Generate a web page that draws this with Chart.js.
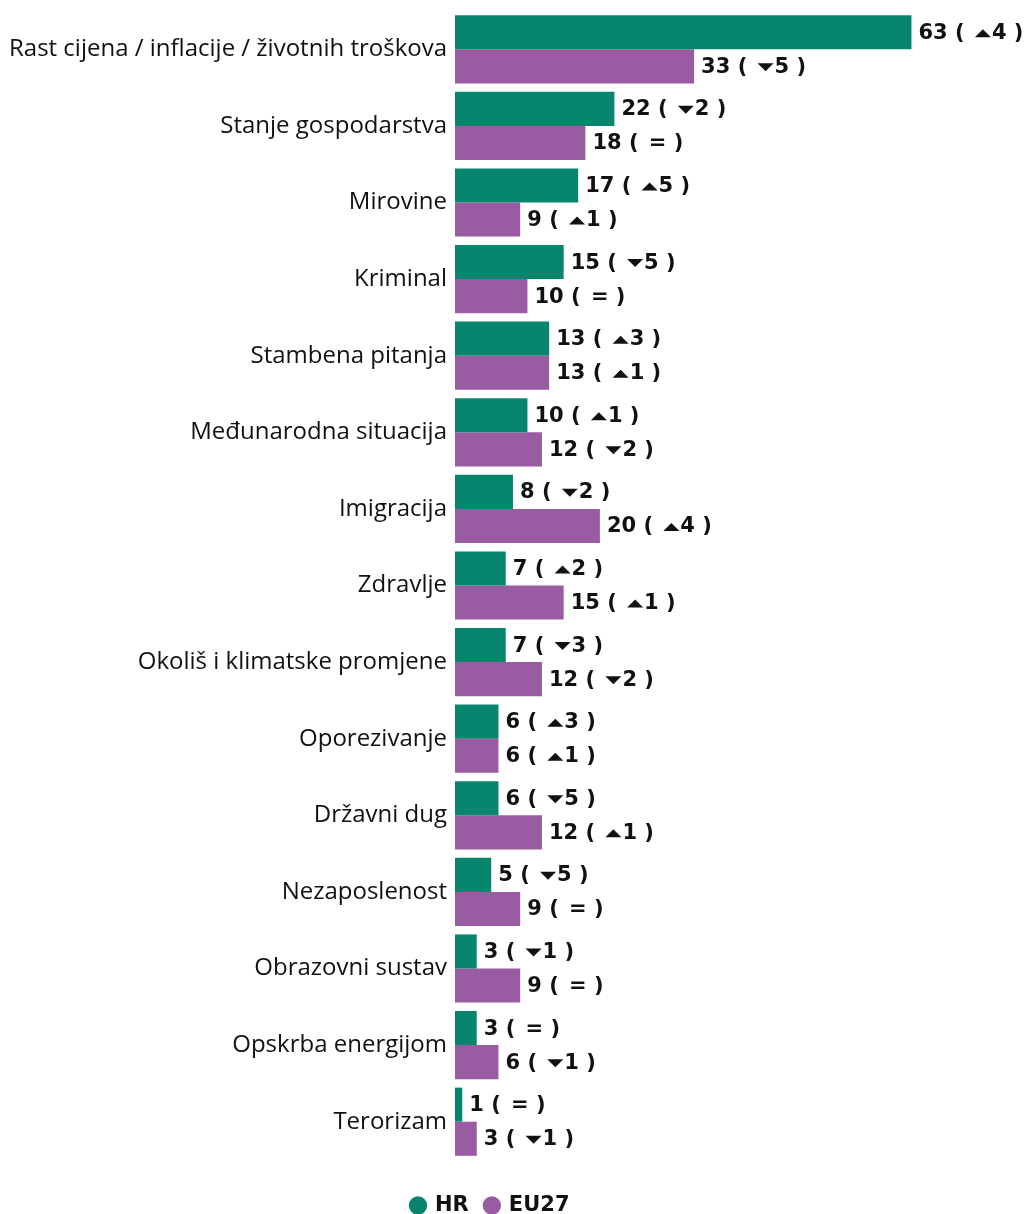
<!DOCTYPE html>
<html>
<head>
<meta charset="utf-8">
<script src="https://cdn.jsdelivr.net/npm/chart.js@4"></script>
<style>
  body { margin: 0; background: #fff; }
  #wrap { width: 1029px; height: 1214px; }
</style>
</head>
<body>
<div id="wrap"><canvas id="issuesChart"></canvas></div>
<script>
const categories = [
    'Rast cijena / inflacije / životnih troškova',
    'Stanje gospodarstva',
    'Mirovine',
    'Kriminal',
    'Stambena pitanja',
    'Međunarodna situacija',
    'Imigracija',
    'Zdravlje',
    'Okoliš i klimatske promjene',
    'Oporezivanje',
    'Državni dug',
    'Nezaposlenost',
    'Obrazovni sustav',
    'Opskrba energijom',
    'Terorizam'
];
const hrValues = [63, 22, 17, 15, 13, 10, 8, 7, 7, 6, 6, 5, 3, 3, 1];
const hrChange = [4, -2, 5, -5, 3, 1, -2, 2, -3, 3, -5, -5, -1, 0, 0];
const euValues = [33, 18, 9, 10, 13, 12, 20, 15, 12, 6, 12, 9, 9, 6, 3];
const euChange = [-5, 0, 1, 0, 1, -2, 4, 1, -2, 1, 1, 0, 0, -1, -1];

const HR_COLOR = '#08866d';
const EU_COLOR = '#995ca2';

// value labels like "63 ( ▲4 )"
const valueLabels = {
    id: 'valueLabels',
    afterDatasetsDraw(chart) {
        const ctx = chart.ctx;
        const changes = [hrChange, euChange];
        ctx.save();
        ctx.font = 'bold 21px "DejaVu Sans"';
        ctx.fillStyle = '#111';
        ctx.textBaseline = 'middle';
        ctx.textAlign = 'left';
        chart.data.datasets.forEach((ds, i) => {
            chart.getDatasetMeta(i).data.forEach((bar, j) => {
                let x = bar.x + 7;
                const y = bar.y + 1;
                const head = ds.data[j] + ' ( ';
                ctx.fillText(head, x, y);
                x += ctx.measureText(head).width + 3;
                const c = changes[i][j];
                let tail;
                if (c === 0) {
                    tail = '= )';
                } else {
                    const w = 16, h = 8;
                    ctx.beginPath();
                    if (c > 0) {
                        ctx.moveTo(x, y + h / 2);
                        ctx.lineTo(x + w, y + h / 2);
                        ctx.lineTo(x + w / 2, y - h / 2);
                    } else {
                        ctx.moveTo(x, y - h / 2);
                        ctx.lineTo(x + w, y - h / 2);
                        ctx.lineTo(x + w / 2, y + h / 2);
                    }
                    ctx.closePath();
                    ctx.fill();
                    x += w + 1;
                    tail = Math.abs(c) + ' )';
                }
                ctx.fillText(tail, x, y);
            });
        });
        ctx.restore();
    }
};

new Chart(document.getElementById('issuesChart'), {
    type: 'bar',
    data: {
        labels: categories,
        datasets: [
            {
                label: 'HR',
                data: hrValues,
                backgroundColor: HR_COLOR,
                categoryPercentage: 0.89,
                barPercentage: 1
            },
            {
                label: 'EU27',
                data: euValues,
                backgroundColor: EU_COLOR,
                categoryPercentage: 0.89,
                barPercentage: 1
            }
        ]
    },
    options: {
        indexAxis: 'y',
        responsive: true,
        maintainAspectRatio: false,
        animation: false,
        layout: { padding: { top: 11, right: 48, left: 0, bottom: -12 } },
        plugins: {
            legend: {
                position: 'bottom',
                labels: {
                    usePointStyle: true,
                    pointStyle: 'circle',
                    boxWidth: 13,
                    boxHeight: 13,
                    padding: 2,
                    color: '#111',
                    font: { family: '"DejaVu Sans"', weight: 'bold', size: 21 },
                    generateLabels(chart) {
                        return Chart.defaults.plugins.legend.labels.generateLabels(chart)
                            .map((l, i) => ({ ...l, text: i === 0 ? l.text + '  ' : l.text }));
                    }
                }
            },
            tooltip: { enabled: false }
        },
        scales: {
            x: {
                // kept only as spacer above the legend
                afterFit(scale) { scale.height = 33; },
                min: 0,
                max: 72.6,
                grid: { display: false, drawTicks: false },
                border: { display: false },
                ticks: { display: false }
            },
            y: {
                afterFit(scale) {
                    scale.width = 455;
                    scale.paddingTop = 0;
                    scale.paddingBottom = 0;
                },
                grid: { display: false, drawTicks: false },
                border: { display: false },
                ticks: {
                    padding: 8,
                    color: '#111',
                    font: { family: '"Open Sans"', size: 24 }
                }
            }
        }
    },
    plugins: [valueLabels]
});
</script>
</body>
</html>
